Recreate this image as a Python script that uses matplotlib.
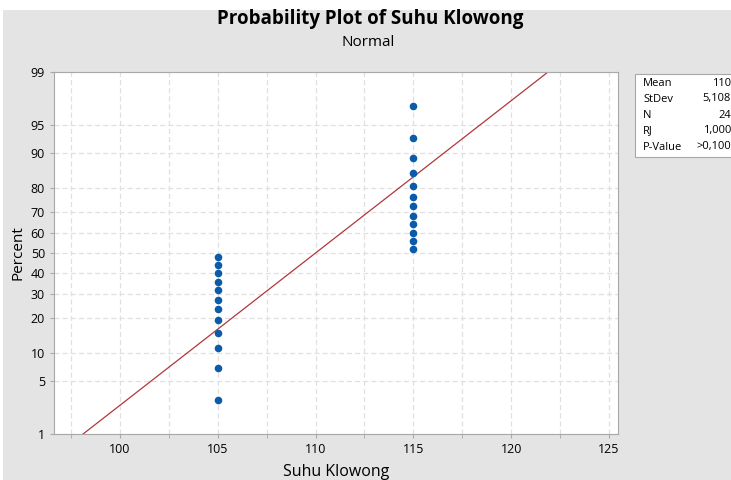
import matplotlib.pyplot as plt
from matplotlib.patches import Rectangle
from statistics import NormalDist

plt.rcParams['font.family'] = ['Open Sans', 'DejaVu Sans']

# data
x_low = [105] * 12
pct_low = [2.9, 7.0, 11.1, 15.2, 19.3, 23.4, 27.5, 31.6, 35.7, 39.8, 43.9, 48.0]
x_high = [115] * 12
pct_high = [52.0, 56.1, 60.2, 64.3, 68.4, 72.5, 76.6, 80.7, 84.8, 88.9, 93.0, 97.1]

mean = 110
stdev = 5.108
n = 24
stat_labels = ['Mean', 'StDev', 'N', 'RJ', 'P-Value']
stat_values = ['110', '5,108', '24', '1,000', '>0,100']

y_ticks = [1, 5, 10, 20, 30, 40, 50, 60, 70, 80, 90, 95, 99]
x_ticks = [100, 105, 110, 115, 120, 125]

nd = NormalDist()


def probit(p):
    return nd.inv_cdf(p / 100.0)


W, H = 731, 480
fig = plt.figure(figsize=(W / 100, H / 100), dpi=100, facecolor='#E4E4E4')
fig.patches.append(Rectangle((0, 1 - 10 / H), 1, 10 / H, transform=fig.transFigure,
                             facecolor='white', edgecolor='none', zorder=0))
fig.patches.append(Rectangle((0, 0), 3 / W, 1, transform=fig.transFigure,
                             facecolor='white', edgecolor='none', zorder=0))

ax = fig.add_axes([54 / W, 46 / H, 564 / W, 362 / H])
ax.set_facecolor('white')

pts_col = '#0A5BAA'
ax.scatter(x_low, [probit(p) for p in pct_low], s=30, color=pts_col, zorder=3, linewidths=0)
ax.scatter(x_high, [probit(p) for p in pct_high], s=30, color=pts_col, zorder=3, linewidths=0)

# fitted normal line from mean/stdev
fit = NormalDist(mean, stdev)
ax.plot([fit.inv_cdf(0.01), fit.inv_cdf(0.99)], [probit(1), probit(99)],
        color='#B0383A', lw=0.9, zorder=2)

ax.set_xlim(96.63, 125.46)
ax.set_ylim(probit(1), probit(99))
ax.set_yticks([probit(v) for v in y_ticks])
ax.set_yticklabels([str(v) for v in y_ticks])
ax.set_xticks(x_ticks)
ax.set_xticks([97.5 + 5 * i for i in range(6)], minor=True)

ax.grid(True, which='both', color='#E0E0E0', ls=(0, (4, 2.5)), lw=0.9)
for s in ax.spines.values():
    s.set_color('#A8A8A8')
ax.tick_params(which='both', colors='#A8A8A8', labelcolor='black', labelsize=9, length=3)

ax.set_xlabel('Suhu Klowong', fontsize=11.5, labelpad=6)
ax.set_ylabel('Percent', fontsize=11, labelpad=4)

fig.text(370 / W, 1 - 19 / H, 'Probability Plot of Suhu Klowong', ha='center', va='center',
         fontsize=13.5, fontweight='bold')
fig.text(368 / W, 1 - 42 / H, 'Normal', ha='center', va='center', fontsize=11)

# stats box
fig.patches.append(Rectangle((635 / W, 1 - 157 / H), 110 / W, 83 / H, transform=fig.transFigure,
                             facecolor='white', edgecolor='#A8A8A8', lw=0.8, zorder=1))
for i, (lab, val) in enumerate(zip(stat_labels, stat_values)):
    yy = 1 - (83 + i * 16) / H
    fig.text(643 / W, yy, lab, ha='left', va='center', fontsize=8)
    fig.text(731 / W, yy, val, ha='right', va='center', fontsize=8)

fig.savefig('out.png', dpi=100, facecolor=fig.get_facecolor())
